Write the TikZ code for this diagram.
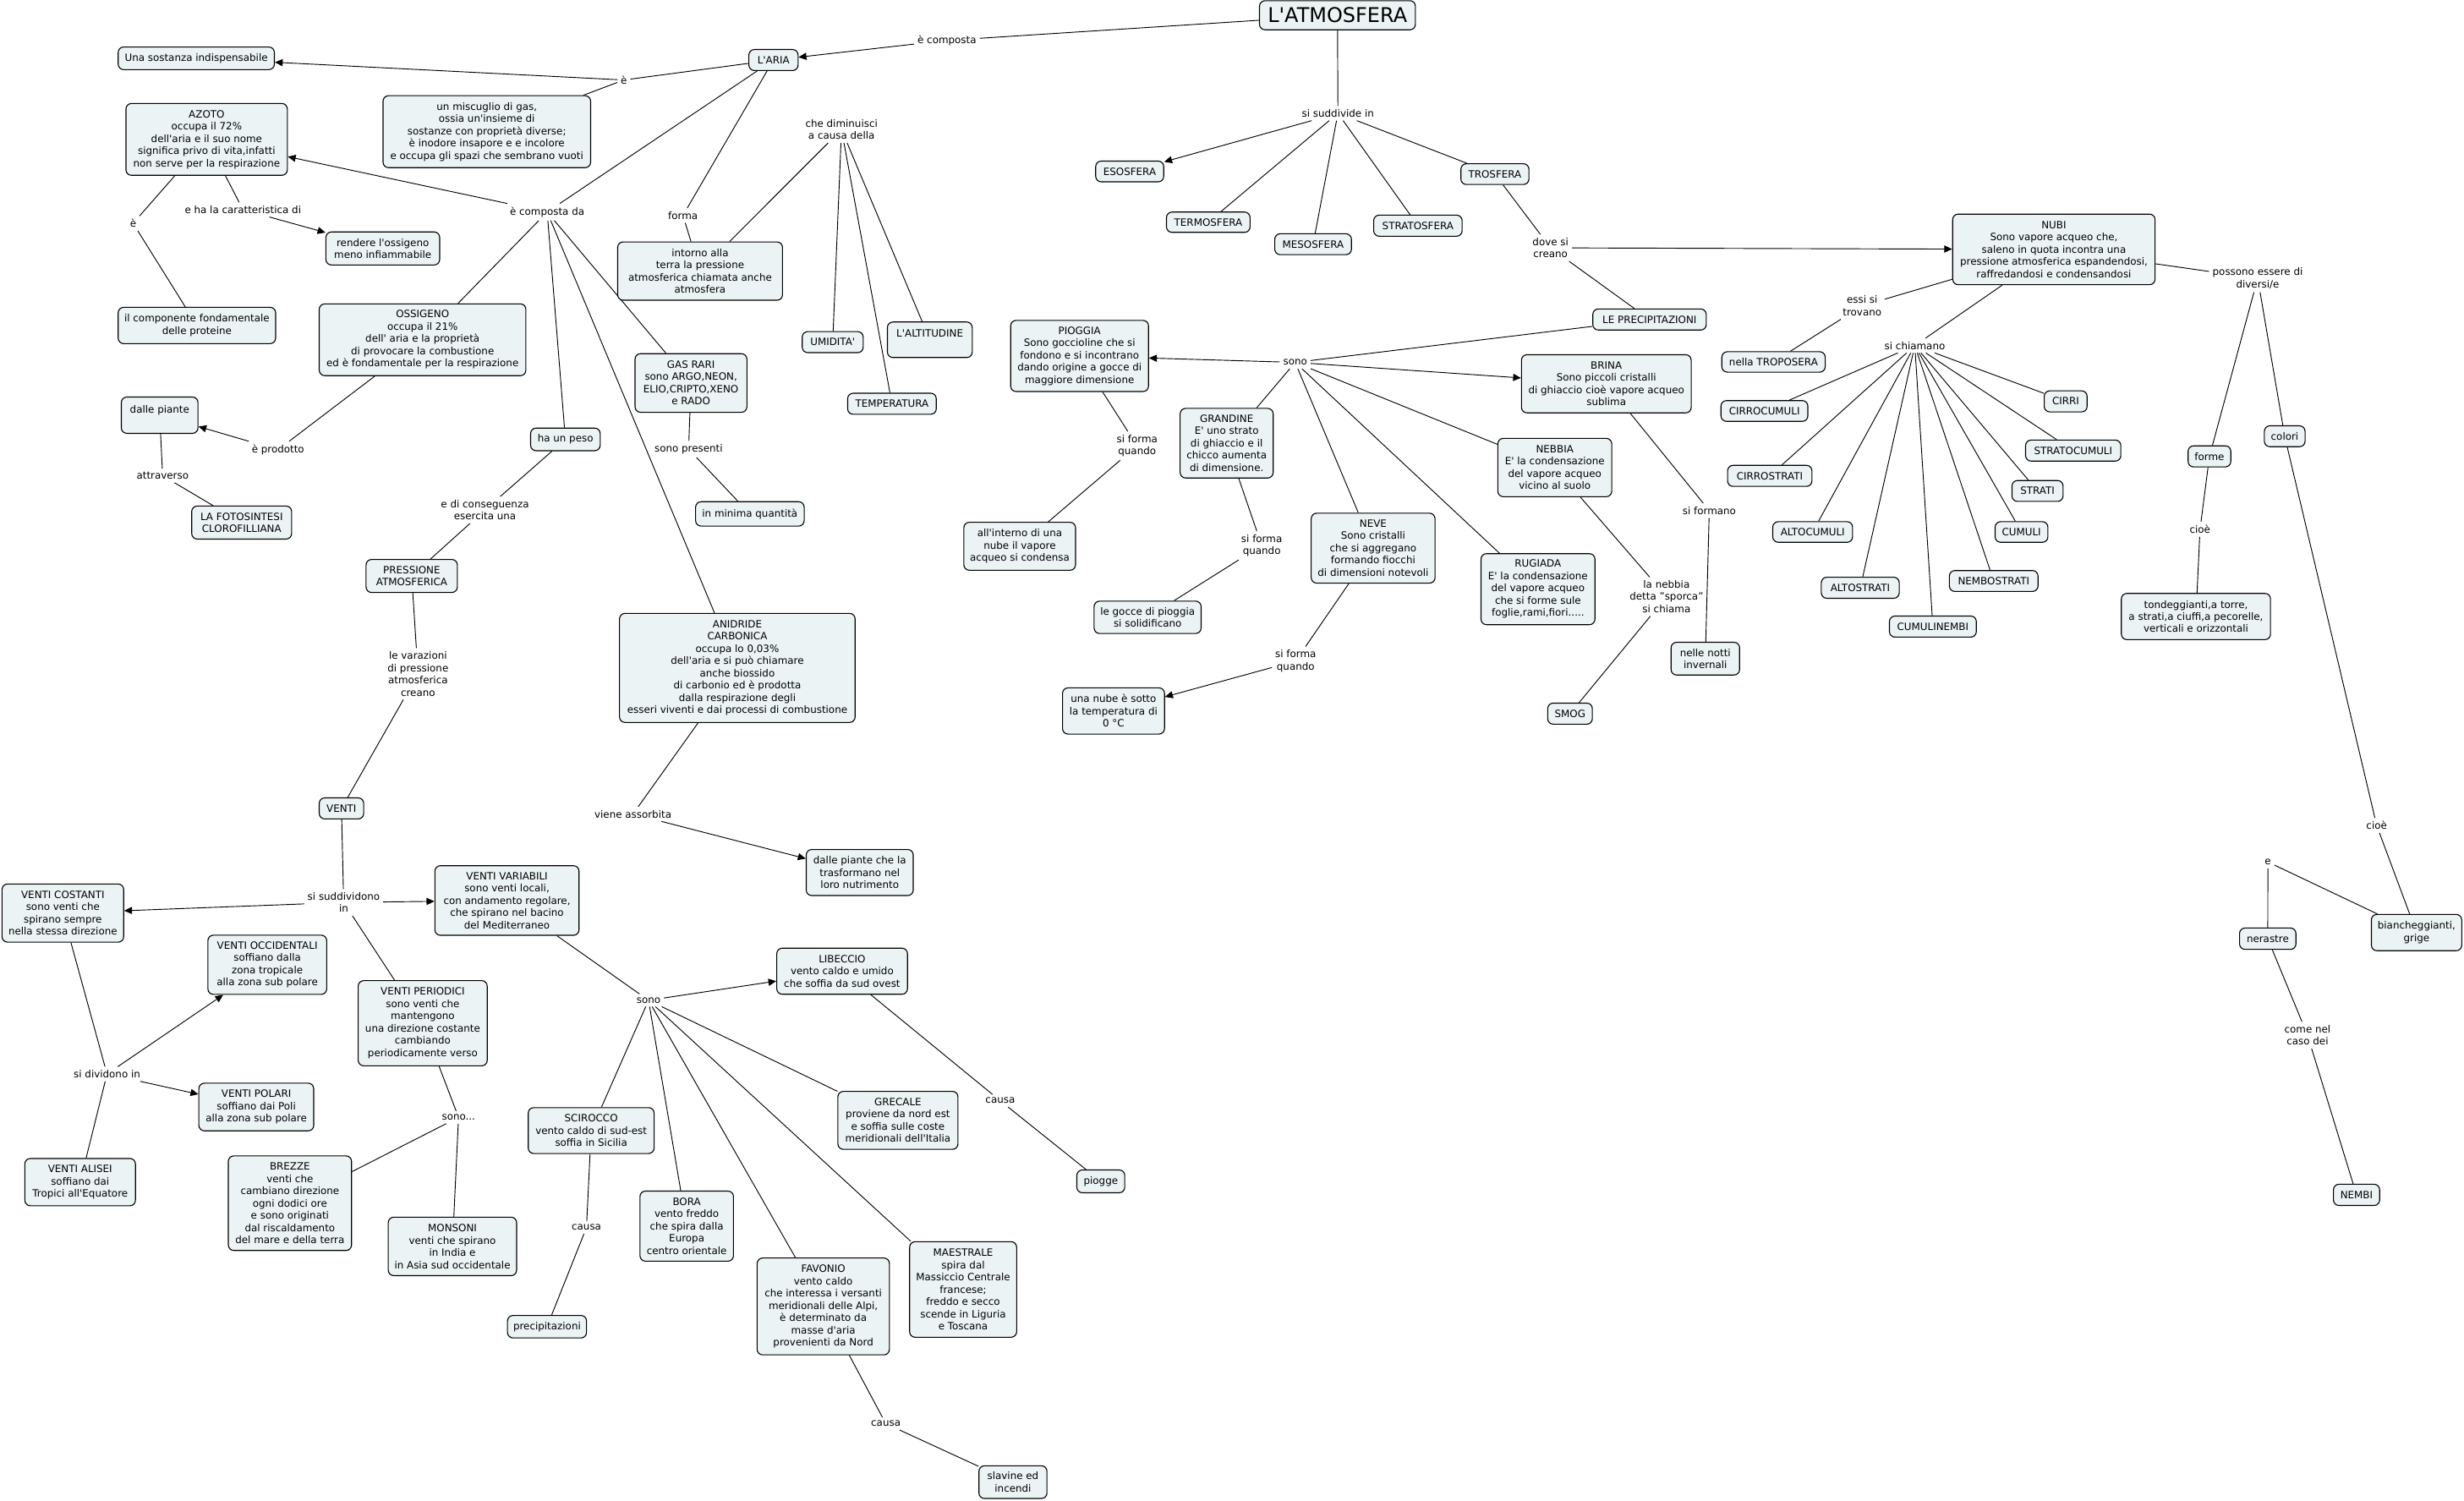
\documentclass[tikz,border=0pt]{standalone}
\usepackage{fontspec}
\setmainfont{DejaVu Sans}
\usetikzlibrary{arrows.meta}
\definecolor{boxfill}{RGB}{236,243,245}
\newcommand\ap{\textquotesingle}
\pgfdeclarelayer{bg}
\pgfsetlayers{bg,main}
\tikzset{
  cb/.style={draw=black, line width=0.6pt, rounded corners=3.5pt, fill=boxfill, align=center, inner sep=1pt, font=\fontsize{6.4}{7.8}\selectfont},
  lab/.style={align=center, inner sep=2pt, font=\fontsize{6.4}{7.8}\selectfont},
  ln/.style={line width=0.5pt},
  ar/.style={line width=0.5pt, -{Triangle[length=5pt,width=4.5pt]}},
}
\newcommand\CN[6]{\node[cb, minimum width=#4pt, minimum height=#5pt] (#1) at (#2,#3) {#6};}
\newcommand\LB[4]{\node[lab] (#1) at (#2,#3) {#4};}
\begin{document}
\begin{tikzpicture}[x=1pt,y=-1pt]
\useasboundingbox (0,0) rectangle (1568,955);
% ---------- concept boxes ----------
\node[cb, minimum width=99.2pt, minimum height=18.5pt, font=\fontsize{12.9}{15}\selectfont] (ATM) at (851.1,9.7) {L\ap ATMOSFERA};
\CN{ARIA}{492.2}{38.2}{31.3}{13.4}{L\ap ARIA}
\CN{SOST}{124.9}{37.1}{99.4}{14.4}{Una sostanza indispensabile}
\CN{MISC}{309.8}{83.8}{132.1}{45.8}{un miscuglio di gas,\\ossia un\ap insieme di\\sostanze con proprietà diverse;\\è inodore insapore e e incolore\\e occupa gli spazi che sembrano vuoti}
\CN{AZOTO}{131.5}{88.7}{102.7}{45.7}{AZOTO\\occupa il 72\%\\dell\ap aria e il suo nome\\significa privo di vita,infatti\\non serve per la respirazione}
\CN{OSSIG}{243.6}{158.1}{72.4}{21.0}{rendere l\ap ossigeno\\meno infiammabile}
\CN{PROT}{125.3}{207.1}{100.2}{23.1}{il componente fondamentale\\delle proteine}
\CN{OSSIGENO}{268.9}{216.2}{131.5}{45.7}{OSSIGENO\\occupa il 21\%\\dell\ap\ aria e la proprietà\\di provocare la combustione\\ed è fondamentale per la respirazione}
\CN{PIANTE}{101.6}{264.2}{48.8}{23.1}{dalle piante\\\phantom{x}}
\CN{HAPESO}{359.8}{279.6}{44.3}{14.4}{ha un peso}
\CN{FOTO}{153.8}{332.5}{63.6}{21.0}{LA FOTOSINTESI\\CLOROFILLIANA}
\CN{INTORNO}{445.5}{172.5}{104.9}{37.1}{intorno alla\\terra la pressione\\atmosferica chiamata anche\\atmosfera}
\CN{UMID}{529.9}{217.7}{38.8}{13.4}{UMIDITA\ap}
\CN{ALTIT}{591.7}{216.2}{54.0}{22.6}{L\ap ALTITUDINE\\\phantom{x}}
\CN{TEMP}{567.6}{256.9}{56.4}{13.4}{TEMPERATURA}
\CN{GASRARI}{439.7}{243.7}{71.2}{37.3}{GAS RARI\\sono ARGO,NEON,\\ELIO,CRIPTO,XENO\\e RADO}
\CN{MINIMA}{477.2}{327.0}{69.1}{15.5}{in minima quantità}
\CN{ANIDRIDE}{469.2}{425.0}{149.9}{69.4}{ANIDRIDE\\CARBONICA\\occupa lo 0,03\%\\dell\ap aria e si può chiamare\\anche biossido\\di carbonio ed è prodotta\\dalla respirazione degli\\esseri viventi e dai processi di combustione}
\CN{DPIANTE}{547.1}{555.2}{68.1}{29.3}{dalle piante che la\\trasformano nel\\loro nutrimento}
\CN{PRESS}{262.0}{366.5}{58.1}{21.0}{PRESSIONE\\ATMOSFERICA}
\CN{VENTI}{217.3}{514.4}{28.3}{13.4}{VENTI}
\CN{VCOST}{40.0}{581.0}{77.4}{37.0}{VENTI COSTANTI\\sono venti che\\spirano sempre\\nella stessa direzione}
\CN{VVAR}{322.6}{573.0}{91.7}{44.3}{VENTI VARIABILI\\sono venti locali,\\con andamento regolare,\\che spirano nel bacino\\del Mediterraneo}
\CN{VOCC}{170.1}{613.9}{75.6}{37.7}{VENTI OCCIDENTALI\\soffiano dalla\\zona tropicale\\alla zona sub polare}
\CN{VPER}{269.0}{651.1}{82.1}{54.2}{VENTI PERIODICI\\sono venti che\\mantengono\\una direzione costante\\cambiando\\periodicamente verso}
\CN{VPOL}{163.1}{704.4}{73.1}{30.3}{VENTI POLARI\\soffiano dai Poli\\alla zona sub polare}
\CN{VALISEI}{51.0}{752.2}{70.4}{30.1}{VENTI ALISEI\\soffiano dai\\Tropici all\ap Equatore}
\CN{BREZZE}{184.5}{765.6}{78.4}{60.2}{BREZZE\\venti che\\cambiano direzione\\ogni dodici ore\\e sono originati\\dal riscaldamento\\del mare e della terra}
\CN{MONSONI}{287.9}{793.1}{81.7}{37.2}{MONSONI\\venti che spirano\\in India e\\in Asia sud occidentale}
\CN{SCIROCCO}{376.2}{719.4}{80.1}{29.2}{SCIROCCO\\vento caldo di sud-est\\soffia in Sicilia}
\CN{PRECIPZ}{348.1}{844.2}{50.3}{14.3}{precipitazioni}
\CN{LIBECCIO}{535.9}{618.0}{83.2}{29.3}{LIBECCIO\\vento caldo e umido\\che soffia da sud ovest}
\CN{PIOGGE}{700.5}{751.7}{30.5}{14.5}{piogge}
\CN{GRECALE}{571.4}{712.9}{76.4}{36.9}{GRECALE\\proviene da nord est\\e soffia sulle coste\\meridionali dell\ap Italia}
\CN{BORA}{437.0}{780.2}{59.5}{44.6}{BORA\\vento freddo\\che spira dalla\\Europa\\centro orientale}
\CN{FAVONIO}{523.9}{831.3}{84.2}{61.6}{FAVONIO\\vento caldo\\che interessa i versanti\\meridionali delle Alpi,\\è determinato da\\masse d\ap aria\\provenienti da Nord}
\CN{MAESTRALE}{612.9}{820.5}{68.1}{60.8}{MAESTRALE\\spira dal\\Massiccio Centrale\\francese;\\freddo e secco\\scende in Liguria\\e Toscana}
\CN{SLAVINE}{644.6}{943.1}{43.3}{20.8}{slavine ed\\incendi}
\CN{ESOSFERA}{718.9}{109.1}{43.3}{13.2}{ESOSFERA}
\CN{TERMO}{768.9}{141.4}{53.2}{12.9}{TERMOSFERA}
\CN{MESO}{835.6}{155.4}{48.8}{13.3}{MESOSFERA}
\CN{STRATO}{902.3}{143.6}{56.3}{13.4}{STRATOSFERA}
\CN{TROS}{951.3}{110.8}{43.3}{13.2}{TROSFERA}
\CN{PRECIP}{1049.7}{203.3}{72.2}{13.4}{LE PRECIPITAZIONI}
\CN{PIOGGIA}{687.0}{226.5}{87.7}{45.3}{PIOGGIA\\Sono goccioline che si\\fondono e si incontrano\\dando origine a gocce di\\maggiore dimensione}
\CN{INTERNO}{648.9}{347.6}{71.1}{30.5}{all\ap interno di una\\nube il vapore\\acqueo si condensa}
\CN{GRAND}{780.6}{282.0}{59.2}{44.3}{GRANDINE\\E\ap\ uno strato\\di ghiaccio e il\\chicco aumenta\\di dimensione.}
\CN{GOCCE}{730.3}{392.8}{68.1}{20.6}{le gocce di pioggia\\si solidificano}
\CN{NEVE}{873.8}{348.8}{78.8}{44.5}{NEVE\\Sono cristalli\\che si aggregano\\formando fiocchi\\di dimensioni notevoli}
\CN{NUBEO}{708.6}{452.4}{64.9}{29.4}{una nube è sotto\\la temperatura di\\0 °C}
\CN{BRINA}{1022.2}{244.2}{108.0}{37.0}{BRINA\\Sono piccoli cristalli\\di ghiaccio cioè vapore acqueo\\sublima}
\CN{NEBBIA}{989.4}{297.5}{72.5}{37.1}{NEBBIA\\E\ap\ la condensazione\\del vapore acqueo\\vicino al suolo}
\CN{RUGIADA}{978.7}{374.9}{72.5}{45.2}{RUGIADA\\E\ap\ la condensazione\\del vapore acqueo\\che si forme sule\\foglie,rami,fiori.....}
\CN{NOTTI}{1085.2}{419.1}{43.6}{20.8}{nelle notti\\invernali}
\CN{SMOG}{999.1}{454.1}{28.4}{13.4}{SMOG}
\CN{NUBI}{1307.0}{158.7}{128.8}{44.9}{NUBI\\Sono vapore acqueo che,\\saleno in quota incontra una\\pressione atmosferica espandendosi,\\raffredandosi e condensandosi}
\CN{TROPO}{1128.6}{230.3}{65.8}{13.0}{nella TROPOSERA}
\CN{CIRROC}{1122.8}{261.5}{55.3}{13.2}{CIRROCUMULI}
\CN{CIRROS}{1126.2}{302.8}{53.7}{13.4}{CIRROSTRATI}
\CN{ALTOC}{1153.5}{338.5}{50.8}{13.1}{ALTOCUMULI}
\CN{ALTOS}{1183.8}{374.0}{49.6}{13.4}{ALTOSTRATI}
\CN{CUMNEM}{1230.0}{398.7}{55.3}{13.4}{CUMULINEMBI}
\CN{NEMBOS}{1268.7}{369.7}{56.4}{13.3}{NEMBOSTRATI}
\CN{CUMULI}{1286.4}{338.5}{33.6}{13.1}{CUMULI}
\CN{STRATI}{1296.6}{312.4}{32.5}{13.3}{STRATI}
\CN{STRATOC}{1319.3}{286.7}{60.6}{13.4}{STRATOCUMULI}
\CN{CIRRI}{1314.5}{255.4}{27.3}{13.4}{CIRRI}
\CN{FORME}{1406.0}{290.4}{27.2}{13.4}{forme}
\CN{COLORI}{1453.9}{277.6}{25.9}{13.3}{colori}
\CN{TONDEG}{1397.4}{392.3}{94.9}{29.4}{tondeggianti,a torre,\\a strati,a ciuffi,a pecorelle,\\verticali e orizzontali}
\CN{NERASTRE}{1443.1}{597.3}{35.9}{13.6}{nerastre}
\CN{BIANCH}{1537.8}{593.4}{57.5}{23.1}{biancheggianti,\\grige}
\CN{NEMBI}{1499.6}{760.3}{29.4}{13.5}{NEMBI}
% ---------- linking phrases ----------
\LB{Lecomp}{602.6}{25.7}{è composta}
\LB{Le1}{397.0}{50.9}{è}
\LB{Lecda}{348.2}{134.9}{è composta da}
\LB{Lforma}{434.6}{137.1}{forma}
\LB{Lchedim}{535.5}{82.4}{che diminuisci\\a causa della}
\LB{Le2}{84.7}{142.1}{è}
\LB{Lehala}{154.6}{133.4}{e ha la caratteristica di}
\LB{Leprod}{176.9}{286.2}{è prodotto}
\LB{Lattr}{103.5}{302.7}{attraverso}
\LB{Ledicons}{308.6}{324.5}{e di conseguenza\\esercita una}
\LB{Lsonopres}{438.2}{285.8}{sono presenti}
\LB{Lvieneass}{402.8}{518.0}{viene assorbita}
\LB{Llevar}{266.0}{428.8}{le varazioni\\di pressione\\atmosferica\\creano}
\LB{Lsisudd}{218.7}{574.2}{si suddividono\\in}
\LB{Lsidiv}{68.1}{683.4}{si dividono in}
\LB{Lsonodots}{291.8}{711.0}{sono...}
\LB{Lsonoa}{412.7}{636.5}{sono}
\LB{Lcausaa}{373.2}{781.1}{causa}
\LB{Lcausab}{636.5}{700.4}{causa}
\LB{Lcausac}{563.7}{905.9}{causa}
\LB{Lsisuddin}{851.4}{72.1}{si suddivide in}
\LB{Ldove}{986.7}{157.7}{dove si\\creano}
\LB{Lsonob}{824.2}{230.6}{sono}
\LB{Lsifqa}{723.6}{283.7}{si forma\\quando}
\LB{Lsifqb}{802.9}{347.1}{si forma\\quando}
\LB{Lsifqc}{824.5}{420.6}{si forma\\quando}
\LB{Lsiformano}{1087.7}{324.9}{si formano}
\LB{Lnebbia}{1060.5}{379.6}{la nebbia\\detta "sporca"\\si chiama}
\LB{Lessi}{1185.0}{194.6}{essi si\\trovano}
\LB{Lsichiam}{1218.5}{219.9}{si chiamano}
\LB{Lpossono}{1436.7}{177.1}{possono essere di\\diversi/e}
\LB{Lcioea}{1400.0}{336.8}{cioè}
\LB{Lcioeb}{1512.4}{525.2}{cioè}
\LB{Le3}{1443.2}{548.5}{e}
\LB{Lcome}{1468.4}{658.7}{come nel\\caso dei}
% ---------- connectors ----------
\begin{pgfonlayer}{bg}
\draw[ln] (ATM) -- (Lecomp); \draw[ar] (Lecomp) -- (ARIA);
\draw[ln] (ARIA) -- (Le1); \draw[ar] (Le1) -- (SOST); \draw[ln] (Le1) -- (MISC);
\draw[ln] (ARIA) -- (Lecda); \draw[ar] (Lecda) -- (AZOTO);
\draw[ln] (Lecda) -- (OSSIGENO); \draw[ln] (Lecda) -- (HAPESO);
\draw[ln] (Lecda) -- (GASRARI); \draw[ln] (Lecda) -- (ANIDRIDE);
\draw[ln] (ARIA) -- (Lforma); \draw[ln] (Lforma) -- (INTORNO);
\draw[ln] (INTORNO) -- (Lchedim); \draw[ln] (Lchedim) -- (UMID);
\draw[ln] (Lchedim) -- (TEMP); \draw[ln] (Lchedim) -- (ALTIT);
\draw[ln] (AZOTO) -- (Le2); \draw[ln] (Le2) -- (PROT);
\draw[ln] (AZOTO) -- (Lehala); \draw[ar] (Lehala) -- (OSSIG);
\draw[ln] (OSSIGENO) -- (Leprod); \draw[ar] (Leprod) -- (PIANTE);
\draw[ln] (PIANTE) -- (Lattr); \draw[ln] (Lattr) -- (FOTO);
\draw[ln] (HAPESO) -- (Ledicons); \draw[ln] (Ledicons) -- (PRESS);
\draw[ln] (PRESS) -- (Llevar); \draw[ln] (Llevar) -- (VENTI);
\draw[ln] (VENTI) -- (Lsisudd); \draw[ar] (Lsisudd) -- (VCOST);
\draw[ar] (Lsisudd) -- (VVAR); \draw[ln] (Lsisudd) -- (VPER);
\draw[ln] (VCOST) -- (Lsidiv); \draw[ar] (Lsidiv) -- (VOCC);
\draw[ar] (Lsidiv) -- (VPOL); \draw[ln] (Lsidiv) -- (VALISEI);
\draw[ln] (VPER) -- (Lsonodots); \draw[ln] (Lsonodots) -- (BREZZE); \draw[ln] (Lsonodots) -- (MONSONI);
\draw[ln] (VVAR) -- (Lsonoa); \draw[ar] (Lsonoa) -- (LIBECCIO);
\draw[ln] (Lsonoa) -- (SCIROCCO); \draw[ln] (Lsonoa) -- (BORA); \draw[ln] (Lsonoa) -- (FAVONIO);
\draw[ln] (Lsonoa) -- (MAESTRALE); \draw[ln] (Lsonoa) -- (GRECALE);
\draw[ln] (SCIROCCO) -- (Lcausaa); \draw[ln] (Lcausaa) -- (PRECIPZ);
\draw[ln] (LIBECCIO) -- (Lcausab); \draw[ln] (Lcausab) -- (PIOGGE);
\draw[ln] (FAVONIO) -- (Lcausac); \draw[ln] (Lcausac) -- (SLAVINE);
\draw[ln] (GASRARI) -- (Lsonopres); \draw[ln] (Lsonopres) -- (MINIMA);
\draw[ln] (ANIDRIDE) -- (Lvieneass); \draw[ar] (Lvieneass) -- (DPIANTE);
\draw[ln] (ATM) -- (Lsisuddin); \draw[ar] (Lsisuddin) -- (ESOSFERA);
\draw[ln] (Lsisuddin) -- (TERMO); \draw[ln] (Lsisuddin) -- (MESO);
\draw[ln] (Lsisuddin) -- (STRATO); \draw[ln] (Lsisuddin) -- (TROS);
\draw[ln] (TROS) -- (Ldove); \draw[ar] (Ldove) -- (NUBI); \draw[ln] (Ldove) -- (PRECIP);
\draw[ln] (PRECIP) -- (Lsonob); \draw[ar] (Lsonob) -- (PIOGGIA); \draw[ar] (Lsonob) -- (BRINA);
\draw[ln] (Lsonob) -- (GRAND); \draw[ln] (Lsonob) -- (NEVE);
\draw[ln] (Lsonob) -- (RUGIADA); \draw[ln] (Lsonob) -- (NEBBIA);
\draw[ln] (PIOGGIA) -- (Lsifqa); \draw[ln] (Lsifqa) -- (INTERNO);
\draw[ln] (GRAND) -- (Lsifqb); \draw[ln] (Lsifqb) -- (GOCCE);
\draw[ln] (NEVE) -- (Lsifqc); \draw[ar] (Lsifqc) -- (NUBEO);
\draw[ln] (BRINA) -- (Lsiformano); \draw[ln] (Lsiformano) -- (NOTTI);
\draw[ln] (NEBBIA) -- (Lnebbia); \draw[ln] (Lnebbia) -- (SMOG);
\draw[ln] (NUBI) -- (Lessi); \draw[ln] (Lessi) -- (TROPO);
\draw[ln] (NUBI) -- (Lsichiam);
\foreach \t in {CIRROC,CIRROS,ALTOC,ALTOS,CUMNEM,NEMBOS,CUMULI,STRATI,STRATOC,CIRRI}
  {\draw[ln] (Lsichiam) -- (\t);}
\draw[ln] (NUBI) -- (Lpossono); \draw[ln] (Lpossono) -- (FORME); \draw[ln] (Lpossono) -- (COLORI);
\draw[ln] (FORME) -- (Lcioea); \draw[ln] (Lcioea) -- (TONDEG);
\draw[ln] (COLORI) -- (Lcioeb); \draw[ln] (Lcioeb) -- (BIANCH);
\draw[ln] (BIANCH) -- (Le3); \draw[ln] (Le3) -- (NERASTRE);
\draw[ln] (NERASTRE) -- (Lcome); \draw[ln] (Lcome) -- (NEMBI);
\end{pgfonlayer}
\end{tikzpicture}
\end{document}
